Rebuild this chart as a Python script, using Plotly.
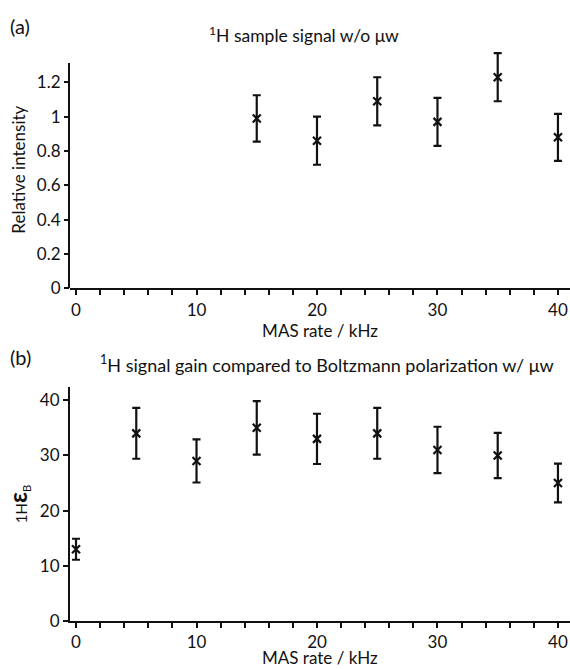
import plotly.graph_objects as go

# Panel (a)
rate_a = [15, 20, 25, 30, 35, 40]
intensity_a = [0.99, 0.86, 1.09, 0.97, 1.23, 0.88]
err_a = [0.135, 0.14, 0.14, 0.14, 0.14, 0.137]
yticks_a = [0, 0.2, 0.4, 0.6, 0.8, 1, 1.2]
ytick_text_a = ["0", "0.2", "0.4", "0.6", "0.8", "1", "1.2"]
ytop_a = 1.313

# Panel (b)
rate_b = [0, 5, 10, 15, 20, 25, 30, 35, 40]
gain_b = [13, 34, 29, 35, 33, 34, 31, 30, 25]
err_b = [1.9, 4.6, 3.9, 4.85, 4.55, 4.6, 4.2, 4.1, 3.5]
yticks_b = [0, 10, 20, 30, 40]

xticks = [0, 10, 20, 30, 40]

FONT = "Lato"
BLACK = "#111111"

W, H = 570, 669
ML, MR, MT, MB = 70, 0, 51, 48
PW, PH = W - ML - MR, H - MT - MB


def px_x(x):
    return (x - ML) / PW


def px_y(y):
    return (H - MB - y) / PH


fig = go.Figure()


def add_series(x, y, e, xa, ya):
    fig.add_trace(go.Scatter(
        x=x, y=y, mode="markers",
        marker=dict(symbol="x-thin", size=8, color=BLACK,
                    line=dict(width=2.2, color=BLACK)),
        error_y=dict(type="data", array=e, visible=True, color=BLACK,
                     thickness=2.2, width=4),
        xaxis=xa, yaxis=ya, showlegend=False, hoverinfo="skip",
        cliponaxis=False))


add_series(rate_a, intensity_a, err_a, "x", "y")
add_series(rate_b, gain_b, err_b, "x2", "y2")

axis_common = dict(showline=True, linecolor=BLACK, linewidth=2,
                   ticks="outside", ticklen=5, tickwidth=2, tickcolor=BLACK,
                   showgrid=False, zeroline=False, mirror=False, automargin=False,
                   tickfont=dict(family=FONT, size=17, color=BLACK))

xminor = dict(dtick=2, ticks="outside", ticklen=5, tickwidth=2, tickcolor=BLACK)
title_font = dict(family=FONT, size=17, color=BLACK)

# panel (a) plot area extends a bit above the axis line so the top error bar is not clipped
px_per_unit_a = (288.3 - 63) / ytop_a
range_top_a = (288.3 - MT) / px_per_unit_a

fig.update_layout(
    width=W, height=H,
    margin=dict(l=ML, r=MR, t=MT, b=MB),
    paper_bgcolor="white", plot_bgcolor="white",
    font=dict(family=FONT, color=BLACK),
    xaxis=dict(**axis_common, domain=[0, 1], range=[-0.5, 41], anchor="y",
               tickvals=xticks, minor=xminor,
               title=dict(text="MAS rate / kHz", font=title_font, standoff=4)),
    yaxis=dict(**{**axis_common, "showline": False}, domain=[px_y(288.3), 1],
               range=[0, range_top_a], anchor="x",
               tickvals=yticks_a, ticktext=ytick_text_a,
               title=dict(text="Relative intensity", font=title_font, standoff=6)),
    xaxis2=dict(**axis_common, domain=[0, 1], range=[-0.5, 41], anchor="y2",
                tickvals=xticks, minor=xminor),
    yaxis2=dict(**axis_common, domain=[0, px_y(387)], range=[0, 42.4], anchor="x2",
                tickvals=yticks_b,
                title=dict(text="<span style='font-size:15px'>1H</span><b><span style='font-size:24px'>ε</span></b><sub>B</sub>",
                           font=dict(family=FONT, size=16, color=BLACK), standoff=8)),
)

# y axis line of panel (a), up to the axis top
fig.add_shape(type="line", xref="x domain", yref="y", x0=-0.002, x1=-0.002, y0=0, y1=ytop_a,
              line=dict(color=BLACK, width=2), layer="above")

fig.add_annotation(text="(a)", xref="paper", yref="paper", x=px_x(8), y=px_y(26),
                   xanchor="left", yanchor="middle", showarrow=False,
                   font=dict(family=FONT, size=20, color=BLACK))
fig.add_annotation(text="<sup>1</sup>H sample signal w/o μw", xref="paper", yref="paper",
                   x=px_x(304), y=px_y(35), xanchor="center", yanchor="middle", showarrow=False,
                   font=dict(family=FONT, size=17.5, color=BLACK))
fig.add_annotation(text="(b)", xref="paper", yref="paper", x=px_x(8), y=px_y(357),
                   xanchor="left", yanchor="middle", showarrow=False,
                   font=dict(family=FONT, size=20, color=BLACK))
fig.add_annotation(text="<sup>1</sup>H signal gain compared to Boltzmann polarization w/ μw", xref="paper", yref="paper",
                   x=px_x(327), y=px_y(364), xanchor="center", yanchor="middle", showarrow=False,
                   font=dict(family=FONT, size=18, color=BLACK))
fig.add_annotation(text="MAS rate / kHz", xref="paper", yref="paper",
                   x=0.5, y=px_y(657), xanchor="center", yanchor="middle", showarrow=False,
                   borderpad=0, font=title_font)

fig.write_html("out.html", config={"displayModeBar": False},
               post_script="document.body.style.margin='0';document.body.style.overflow='hidden';")
